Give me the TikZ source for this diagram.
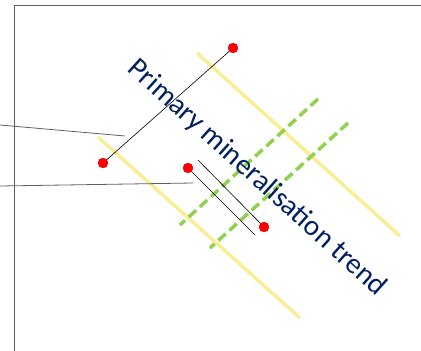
\documentclass[tikz,border=0pt]{standalone}
\usepackage{fontspec}
\setmainfont{Carlito}
\definecolor{trendblue}{RGB}{0,32,96}
\definecolor{veinyellow}{RGB}{248,238,150}
\definecolor{faultgreen}{RGB}{146,208,80}
\definecolor{framegrey}{RGB}{96,96,96}
\usetikzlibrary{positioning}

\begin{document}
\begin{tikzpicture}[x=1pt, y=-1pt,
  dot/.style={circle, fill=red, draw=red!85!black, line width=0.3pt, inner sep=0pt, minimum size=10pt},
  vein/.style={draw=veinyellow, line width=3.5pt},
  fault/.style={draw=faultgreen, line width=3.5pt, dash pattern=on 10pt off 5pt},
  hole/.style={draw=black, line width=0.6pt},
  leader/.style={draw=framegrey, line width=0.8pt},
  trend/.style={text=trendblue, font=\fontsize{29}{34}\selectfont, rotate=-42, inner sep=0pt}
]
  \useasboundingbox (0,0) rectangle (421,351);

  % frame
  \draw[framegrey, line width=1pt] (14,351) -- (14,5) -- (421,5);

  % mineralised veins and faults
  \draw[vein] (197,53) -- (400,236);
  \draw[vein] (98,137) -- (300,318);
  \draw[fault] (318,99) -- (180,225);
  \draw[fault] (348,123) -- (210,248);

  % drill holes
  \node[dot] (a) at (233,48) {};
  \node[dot] (b) at (103,163) {};
  \node[dot] (c) at (188,168) {};
  \node[dot] (d) at (264,227) {};
  \coordinate (cend) at (255,235);
  \coordinate (dstart) at (198,160);
  \draw[hole] (b) -- (a);
  \draw[hole] (c) -- (cend);
  \draw[hole] (dstart) -- (d);

  % leaders
  \coordinate (l1a) at (0,125);
  \coordinate (l1b) at (125,136);
  \coordinate (l2a) at (0,186);
  \coordinate (l2b) at (193,183);
  \draw[leader] (l1a) -- (l1b);
  \draw[leader] (l2a) -- (l2b);

  \node[trend] (label) at (257,178) {Primary mineralisation trend};
\end{tikzpicture}
\end{document}
